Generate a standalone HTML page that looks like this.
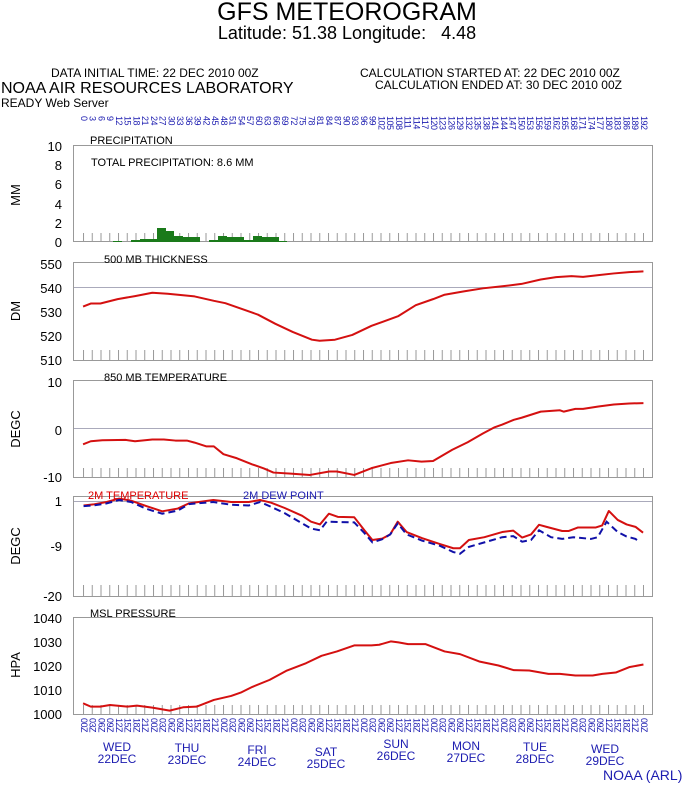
<!DOCTYPE html>
<html><head><meta charset="utf-8">
<style>
html,body{margin:0;padding:0;background:#fff;}
body{width:694px;height:787px;position:relative;overflow:hidden;font-family:"Liberation Sans",sans-serif;}
.a{position:absolute;white-space:nowrap;}
.row{position:absolute;display:flex;left:79px;}
.row span{width:8.75px;writing-mode:vertical-rl;font-size:9px;line-height:8.75px;color:#1c1cb0;letter-spacing:-0.5px;}
.day{position:absolute;color:#1c1cb0;font-size:12px;text-align:center;line-height:12px;width:60px;}
</style></head><body>
<div class="a" style="left:0;width:694px;text-align:center;top:-2px;font-size:25px;">GFS METEOROGRAM</div>
<div class="a" style="left:0;width:694px;text-align:center;top:23px;font-size:18px;white-space:pre;">Latitude: 51.38 Longitude:   4.48</div>
<div class="a" style="left:51px;top:66px;font-size:12px;">DATA INITIAL TIME: 22 DEC 2010 00Z</div>
<div class="a" style="left:360px;top:66px;font-size:12px;">CALCULATION STARTED AT: 22 DEC 2010 00Z</div>
<div class="a" style="left:375px;top:78px;font-size:12px;">CALCULATION ENDED AT: 30 DEC 2010 00Z</div>
<div class="a" style="left:1px;top:80px;font-size:16px;">NOAA AIR RESOURCES LABORATORY</div>
<div class="a" style="left:1px;top:96px;font-size:12px;">READY Web Server</div>

<div class="row" style="top:116px;"><span>0</span><span>3</span><span>6</span><span>9</span><span>12</span><span>15</span><span>18</span><span>21</span><span>24</span><span>27</span><span>30</span><span>33</span><span>36</span><span>39</span><span>42</span><span>45</span><span>48</span><span>51</span><span>54</span><span>57</span><span>60</span><span>63</span><span>66</span><span>69</span><span>72</span><span>75</span><span>78</span><span>81</span><span>84</span><span>87</span><span>90</span><span>93</span><span>96</span><span>99</span><span>102</span><span>105</span><span>108</span><span>111</span><span>114</span><span>117</span><span>120</span><span>123</span><span>126</span><span>129</span><span>132</span><span>135</span><span>138</span><span>141</span><span>144</span><span>147</span><span>150</span><span>153</span><span>156</span><span>159</span><span>162</span><span>165</span><span>168</span><span>171</span><span>174</span><span>177</span><span>180</span><span>183</span><span>186</span><span>189</span><span>192</span></div>

<div class="row" style="top:718px;"><span>00Z</span><span>03Z</span><span>06Z</span><span>09Z</span><span>12Z</span><span>15Z</span><span>18Z</span><span>21Z</span><span>00Z</span><span>03Z</span><span>06Z</span><span>09Z</span><span>12Z</span><span>15Z</span><span>18Z</span><span>21Z</span><span>00Z</span><span>03Z</span><span>06Z</span><span>09Z</span><span>12Z</span><span>15Z</span><span>18Z</span><span>21Z</span><span>00Z</span><span>03Z</span><span>06Z</span><span>09Z</span><span>12Z</span><span>15Z</span><span>18Z</span><span>21Z</span><span>00Z</span><span>03Z</span><span>06Z</span><span>09Z</span><span>12Z</span><span>15Z</span><span>18Z</span><span>21Z</span><span>00Z</span><span>03Z</span><span>06Z</span><span>09Z</span><span>12Z</span><span>15Z</span><span>18Z</span><span>21Z</span><span>00Z</span><span>03Z</span><span>06Z</span><span>09Z</span><span>12Z</span><span>15Z</span><span>18Z</span><span>21Z</span><span>00Z</span><span>03Z</span><span>06Z</span><span>09Z</span><span>12Z</span><span>15Z</span><span>18Z</span><span>21Z</span><span>00Z</span></div>

<div class="day" style="left:87px;top:741px;">WED<br>22DEC</div>
<div class="day" style="left:157px;top:742px;">THU<br>23DEC</div>
<div class="day" style="left:227px;top:744px;">FRI<br>24DEC</div>
<div class="day" style="left:296px;top:746px;">SAT<br>25DEC</div>
<div class="day" style="left:366px;top:738px;">SUN<br>26DEC</div>
<div class="day" style="left:436px;top:740px;">MON<br>27DEC</div>
<div class="day" style="left:505px;top:741px;">TUE<br>28DEC</div>
<div class="day" style="left:575px;top:743px;">WED<br>29DEC</div>
<div class="a" style="left:603px;top:767px;font-size:14px;color:#1c1cb0;">NOAA (ARL)</div>

<svg width="694" height="787" style="position:absolute;left:0;top:0;" xmlns="http://www.w3.org/2000/svg" font-family="Liberation Sans, sans-serif">
<defs>
<pattern id="tk" x="83" y="0" width="8.75" height="787" patternUnits="userSpaceOnUse"><rect x="0" y="0" width="1" height="787" fill="#999"/></pattern>
</defs>
<g fill="none" stroke="#999" stroke-width="1">
<rect x="73.5" y="145.5" width="579" height="96"/>
<rect x="73.5" y="262.5" width="579" height="98"/>
<rect x="73.5" y="380.5" width="579" height="97"/>
<rect x="73.5" y="496.5" width="579" height="100"/>
<rect x="73.5" y="617.5" width="579" height="97"/>
<line x1="74" y1="287.5" x2="652" y2="287.5" stroke="#aab"/>
<line x1="74" y1="428.5" x2="652" y2="428.5" stroke="#aab"/>
<line x1="74" y1="501.5" x2="652" y2="501.5" stroke="#aab"/>
</g>
<g fill="url(#tk)">
<rect x="83" y="233" width="561" height="8"/>
<rect x="83" y="350" width="561" height="10"/>
<rect x="83" y="468" width="561" height="9"/>
<rect x="83" y="585" width="561" height="11"/>
<rect x="83" y="705" width="561" height="9"/>
</g>
<g fill="#1a7a1a">
<rect x="113" y="241" width="9" height="1"/>
<rect x="131" y="240" width="9" height="2"/>
<rect x="140" y="239" width="17" height="3"/>
<rect x="157" y="228" width="9" height="14"/>
<rect x="166" y="231" width="8" height="11"/>
<rect x="174" y="236" width="9" height="6"/>
<rect x="183" y="237" width="9" height="5"/>
<rect x="192" y="237" width="8" height="5"/>
<rect x="209" y="240" width="9" height="2"/>
<rect x="218" y="236" width="9" height="6"/>
<rect x="227" y="237" width="8" height="5"/>
<rect x="235" y="237" width="9" height="5"/>
<rect x="244" y="240" width="9" height="2"/>
<rect x="253" y="236" width="9" height="6"/>
<rect x="262" y="237" width="8" height="5"/>
<rect x="270" y="237" width="9" height="5"/>
<rect x="279" y="241" width="8" height="1"/>
</g>
<g font-size="13" text-anchor="end" fill="#000">
<text x="62" y="151">10</text><text x="62" y="170">8</text><text x="62" y="189">6</text><text x="62" y="209">4</text><text x="62" y="228">2</text><text x="62" y="247">0</text>
<text x="62" y="269">550</text><text x="62" y="293">540</text><text x="62" y="317">530</text><text x="62" y="341">520</text><text x="62" y="365">510</text>
<text x="62" y="387">10</text><text x="62" y="435">0</text><text x="62" y="482">-10</text>
<text x="62" y="506">1</text><text x="62" y="551">-9</text><text x="62" y="601">-20</text>
<text x="62" y="623">1040</text><text x="62" y="647">1030</text><text x="62" y="671">1020</text><text x="62" y="695">1010</text><text x="62" y="719">1000</text>
</g>
<g font-size="13" text-anchor="middle">
<text transform="translate(20,195) rotate(-90)">MM</text>
<text transform="translate(20,311) rotate(-90)">DM</text>
<text transform="translate(20,429) rotate(-90)">DEGC</text>
<text transform="translate(20,546) rotate(-90)">DEGC</text>
<text transform="translate(20,665) rotate(-90)">HPA</text>
</g>
<g font-size="11">
<text x="90" y="144">PRECIPITATION</text>
<text x="91" y="166" white-space="pre">TOTAL PRECIPITATION:  8.6 MM</text>
<text x="104" y="263">500 MB  THICKNESS</text>
<text x="104" y="381">850 MB  TEMPERATURE</text>
<text x="88" y="499" fill="#d00">2M TEMPERATURE</text>
<text x="243" y="499" fill="#1c1cb0">2M  DEW POINT</text>
<text x="90" y="617">MSL PRESSURE</text>
</g>
<g fill="none" stroke="#d41010" stroke-width="2" stroke-linejoin="round">
<path transform="translate(60,253.5) scale(0.3846,0.338)" vector-effect="non-scaling-stroke" d="M60,157 L80,148 105,148 150,135 195,126 240,116 280,119 350,127 400,140 430,147 470,163 515,181 560,208 605,232 655,255 675,258 715,255 760,241 810,214 880,185 925,153 970,135 1000,122 1050,112 1100,103 1150,97 1200,90 1250,77 1290,70 1330,67 1360,69 1400,64 1440,59 1480,55 1517,53"/>
<path transform="translate(60,249.6) scale(0.3846,0.3404)" vector-effect="non-scaling-stroke" d="M60,572 L80,563 110,560 170,559 195,563 240,558 270,558 300,561 330,561 350,567 380,578 400,578 425,601 460,613 500,631 530,643 555,655 600,658 650,662 700,652 720,652 765,662 810,642 860,627 905,619 940,623 970,621 1020,588 1060,566 1100,540 1130,522 1150,514 1180,500 1200,494 1250,476 1300,472 1310,476 1340,468 1360,468 1400,461 1440,455 1480,452 1517,451"/>
<path transform="translate(0,475.1) scale(0.4444,0.345)" vector-effect="non-scaling-stroke" d="M188,88 L210,85 240,78 268,68 295,74 330,90 365,105 400,97 425,82 480,72 520,78 560,78 585,72 610,80 640,95 680,118 700,135 720,143 740,112 760,121 797,122 820,160 838,188 860,184 878,172 895,135 915,165 950,183 990,200 1020,212 1035,212 1055,188 1090,180 1130,165 1155,161 1175,181 1195,172 1213,144 1230,150 1265,162 1280,162 1300,152 1340,152 1355,146 1370,104 1390,130 1410,143 1430,150 1447,167"/>
<path transform="translate(60,599.6) scale(0.3846,0.3345)" vector-effect="non-scaling-stroke" d="M60,310 L80,320 105,320 130,315 175,320 200,317 240,323 285,332 320,322 355,320 400,300 445,288 470,278 500,261 545,240 590,212 640,190 680,168 720,155 765,137 810,137 830,135 860,125 880,128 905,133 950,133 1000,155 1040,163 1090,185 1140,197 1180,211 1220,212 1270,222 1300,222 1340,227 1385,227 1410,222 1445,218 1480,202 1517,194"/>
</g>
<path transform="translate(0,475.1) scale(0.4444,0.345)" vector-effect="non-scaling-stroke" fill="none" stroke="#1010a8" stroke-width="2" stroke-dasharray="7,4" d="M188,90 L210,88 240,82 268,72 295,78 330,98 365,112 400,103 425,84 480,78 520,86 560,88 585,78 610,92 640,110 680,140 700,155 720,160 735,135 760,136 797,137 820,168 838,195 860,186 878,172 895,140 915,172 950,190 990,205 1020,223 1035,228 1055,208 1090,195 1130,180 1155,177 1175,193 1195,188 1213,160 1240,180 1265,185 1290,180 1330,185 1345,180 1365,135 1390,165 1410,178 1430,185 1440,195"/>
</svg>
</body></html>
